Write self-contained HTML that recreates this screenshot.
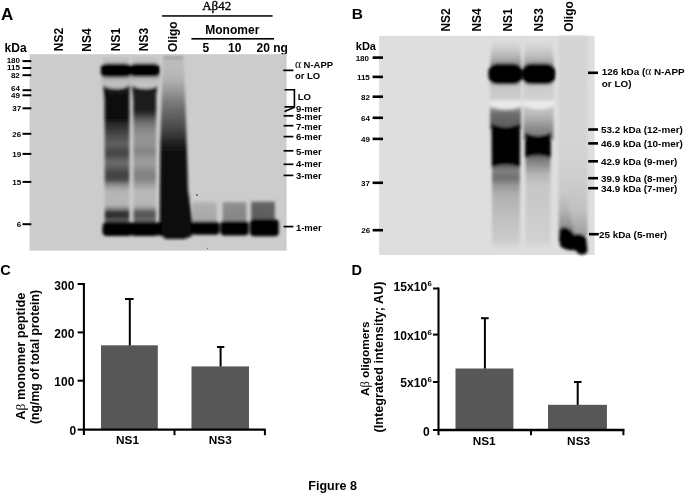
<!DOCTYPE html>
<html><head><meta charset="utf-8"><title>Figure 8</title>
<style>html,body{margin:0;padding:0;background:#fff;width:685px;height:493px;overflow:hidden}svg{display:block;font-family:"Liberation Sans",sans-serif;filter:grayscale(1) blur(0.4px)}</style>
</head><body>
<svg width="685" height="493" viewBox="0 0 685 493" font-family="Liberation Sans, sans-serif">
<defs>
<filter id="bl" x="-20%" y="-20%" width="140%" height="140%"><feGaussianBlur stdDeviation="1.4"/></filter>
<filter id="bl2" x="-20%" y="-20%" width="140%" height="140%"><feGaussianBlur stdDeviation="1.7"/></filter>
<linearGradient id="g1" gradientUnits="userSpaceOnUse" x1="0" y1="77" x2="0" y2="236"><stop offset="0.0000" stop-color="#3c3c3c"/><stop offset="0.0314" stop-color="#141414"/><stop offset="0.2579" stop-color="#0c0c0c"/><stop offset="0.2956" stop-color="#282828"/><stop offset="0.3396" stop-color="#3e3e3e"/><stop offset="0.3836" stop-color="#525252"/><stop offset="0.4214" stop-color="#5f5f5f"/><stop offset="0.4528" stop-color="#525252"/><stop offset="0.4780" stop-color="#424242"/><stop offset="0.5031" stop-color="#505050"/><stop offset="0.5283" stop-color="#696969"/><stop offset="0.5597" stop-color="#646464"/><stop offset="0.5912" stop-color="#4b4b4b"/><stop offset="0.6226" stop-color="#404040"/><stop offset="0.6478" stop-color="#4b4b4b"/><stop offset="0.6730" stop-color="#828282"/><stop offset="0.6981" stop-color="#a5a5a5"/><stop offset="0.7296" stop-color="#b6b6b6"/><stop offset="0.8050" stop-color="#b6b6b6"/><stop offset="0.8302" stop-color="#828282"/><stop offset="0.8491" stop-color="#323232"/><stop offset="0.8805" stop-color="#2d2d2d"/><stop offset="0.8994" stop-color="#646464"/><stop offset="0.9245" stop-color="#0a0a0a"/><stop offset="1.0000" stop-color="#0a0a0a"/></linearGradient>
<linearGradient id="g2" gradientUnits="userSpaceOnUse" x1="0" y1="77" x2="0" y2="236"><stop offset="0.0000" stop-color="#464646"/><stop offset="0.0314" stop-color="#191919"/><stop offset="0.2075" stop-color="#1c1c1c"/><stop offset="0.2327" stop-color="#303030"/><stop offset="0.2579" stop-color="#555555"/><stop offset="0.2956" stop-color="#767676"/><stop offset="0.3396" stop-color="#8a8a8a"/><stop offset="0.3836" stop-color="#949494"/><stop offset="0.4277" stop-color="#919191"/><stop offset="0.4717" stop-color="#848484"/><stop offset="0.5031" stop-color="#949494"/><stop offset="0.5409" stop-color="#9e9e9e"/><stop offset="0.5849" stop-color="#8c8c8c"/><stop offset="0.6164" stop-color="#808080"/><stop offset="0.6478" stop-color="#888888"/><stop offset="0.6792" stop-color="#a0a0a0"/><stop offset="0.7233" stop-color="#b9b9b9"/><stop offset="0.8050" stop-color="#b6b6b6"/><stop offset="0.8302" stop-color="#8c8c8c"/><stop offset="0.8491" stop-color="#5a5a5a"/><stop offset="0.8805" stop-color="#555555"/><stop offset="0.8994" stop-color="#737373"/><stop offset="0.9245" stop-color="#0a0a0a"/><stop offset="1.0000" stop-color="#0a0a0a"/></linearGradient>
<linearGradient id="g3" gradientUnits="userSpaceOnUse" x1="0" y1="75" x2="0" y2="89"><stop offset="0.0000" stop-color="#969696"/><stop offset="0.2500" stop-color="#afafaf"/><stop offset="0.5714" stop-color="#c0c0c0"/><stop offset="1.0000" stop-color="#bcbcbc"/></linearGradient>
<linearGradient id="g4" gradientUnits="userSpaceOnUse" x1="0" y1="75" x2="0" y2="89"><stop offset="0.0000" stop-color="#9b9b9b"/><stop offset="0.2500" stop-color="#b4b4b4"/><stop offset="0.5714" stop-color="#c4c4c4"/><stop offset="1.0000" stop-color="#c0c0c0"/></linearGradient>
<linearGradient id="g5" gradientUnits="userSpaceOnUse" x1="0" y1="56" x2="0" y2="237"><stop offset="0.0000" stop-color="#a0a0a0"/><stop offset="0.0193" stop-color="#bcbcbc"/><stop offset="0.0773" stop-color="#bababa"/><stop offset="0.1326" stop-color="#b0b0b0"/><stop offset="0.1878" stop-color="#9a9a9a"/><stop offset="0.2431" stop-color="#7f7f7f"/><stop offset="0.2983" stop-color="#6a6a6a"/><stop offset="0.3536" stop-color="#585858"/><stop offset="0.4088" stop-color="#444444"/><stop offset="0.4475" stop-color="#323232"/><stop offset="0.4807" stop-color="#212121"/><stop offset="0.5138" stop-color="#141414"/><stop offset="0.5525" stop-color="#0a0a0a"/><stop offset="1.0000" stop-color="#080808"/></linearGradient>
<linearGradient id="g6" gradientUnits="userSpaceOnUse" x1="0" y1="201.5" x2="0" y2="221"><stop offset="0.0000" stop-color="#bababa"/><stop offset="0.2051" stop-color="#aeaeae"/><stop offset="1.0000" stop-color="#a6a6a6"/></linearGradient>
<linearGradient id="g7" gradientUnits="userSpaceOnUse" x1="0" y1="202" x2="0" y2="221"><stop offset="0.0000" stop-color="#989898"/><stop offset="0.2105" stop-color="#8c8c8c"/><stop offset="1.0000" stop-color="#848484"/></linearGradient>
<linearGradient id="g8" gradientUnits="userSpaceOnUse" x1="0" y1="201.5" x2="0" y2="221"><stop offset="0.0000" stop-color="#6e6e6e"/><stop offset="0.2051" stop-color="#626262"/><stop offset="1.0000" stop-color="#5a5a5a"/></linearGradient>
<linearGradient id="g9" gradientUnits="userSpaceOnUse" x1="0" y1="40" x2="0" y2="67"><stop offset="0.0000" stop-color="#dedede"/><stop offset="0.2593" stop-color="#d0d0d0"/><stop offset="0.4815" stop-color="#c0c0c0"/><stop offset="0.6667" stop-color="#aeaeae"/><stop offset="0.8148" stop-color="#9c9c9c"/><stop offset="1.0000" stop-color="#878787"/></linearGradient>
<linearGradient id="g10" gradientUnits="userSpaceOnUse" x1="0" y1="40" x2="0" y2="67"><stop offset="0.0000" stop-color="#dedede"/><stop offset="0.2593" stop-color="#d3d3d3"/><stop offset="0.4815" stop-color="#c6c6c6"/><stop offset="0.6667" stop-color="#b6b6b6"/><stop offset="0.8148" stop-color="#a6a6a6"/><stop offset="1.0000" stop-color="#969696"/></linearGradient>
<linearGradient id="g11" gradientUnits="userSpaceOnUse" x1="0" y1="82" x2="0" y2="130"><stop offset="0.0000" stop-color="#b4b4b4"/><stop offset="0.0833" stop-color="#c6c6c6"/><stop offset="0.3542" stop-color="#cdcdcd"/><stop offset="0.4792" stop-color="#d0d0d0"/><stop offset="0.5833" stop-color="#8c8c8c"/><stop offset="0.6667" stop-color="#6c6c6c"/><stop offset="0.8333" stop-color="#626262"/><stop offset="1.0000" stop-color="#5a5a5a"/></linearGradient>
<linearGradient id="g12" gradientUnits="userSpaceOnUse" x1="0" y1="160" x2="0" y2="248"><stop offset="0.0000" stop-color="#1e1e1e"/><stop offset="0.0795" stop-color="#6e6e6e"/><stop offset="0.1364" stop-color="#828282"/><stop offset="0.1818" stop-color="#707070"/><stop offset="0.2273" stop-color="#767676"/><stop offset="0.2841" stop-color="#969696"/><stop offset="0.3977" stop-color="#b0b0b0"/><stop offset="0.6250" stop-color="#bebebe"/><stop offset="0.9091" stop-color="#cbcbcb"/><stop offset="1.0000" stop-color="#dadada"/></linearGradient>
<linearGradient id="g13" gradientUnits="userSpaceOnUse" x1="0" y1="82" x2="0" y2="140"><stop offset="0.0000" stop-color="#bcbcbc"/><stop offset="0.0690" stop-color="#cbcbcb"/><stop offset="0.2759" stop-color="#d0d0d0"/><stop offset="0.3793" stop-color="#d2d2d2"/><stop offset="0.4655" stop-color="#c3c3c3"/><stop offset="0.5862" stop-color="#b6b6b6"/><stop offset="0.7069" stop-color="#9d9d9d"/><stop offset="0.8103" stop-color="#898989"/><stop offset="1.0000" stop-color="#787878"/></linearGradient>
<linearGradient id="g14" gradientUnits="userSpaceOnUse" x1="0" y1="152" x2="0" y2="248"><stop offset="0.0000" stop-color="#282828"/><stop offset="0.0625" stop-color="#737373"/><stop offset="0.1250" stop-color="#8c8c8c"/><stop offset="0.2292" stop-color="#b4b4b4"/><stop offset="0.3438" stop-color="#c6c6c6"/><stop offset="0.9167" stop-color="#d0d0d0"/><stop offset="1.0000" stop-color="#dcdcdc"/></linearGradient>
<linearGradient id="g15" gradientUnits="userSpaceOnUse" x1="0" y1="36" x2="0" y2="232"><stop offset="0.0000" stop-color="#d5d5d5"/><stop offset="0.5816" stop-color="#d3d3d3"/><stop offset="0.7602" stop-color="#cbcbcb"/><stop offset="0.8878" stop-color="#c0c0c0"/><stop offset="0.9490" stop-color="#b1b1b1"/><stop offset="1.0000" stop-color="#a0a0a0"/></linearGradient>
<linearGradient id="g16" gradientUnits="userSpaceOnUse" x1="0" y1="190" x2="0" y2="232"><stop offset="0.0000" stop-color="#cdcdcd"/><stop offset="0.4762" stop-color="#b4b4b4"/><stop offset="0.7619" stop-color="#9b9b9b"/><stop offset="1.0000" stop-color="#828282"/></linearGradient>
</defs>
<rect width="685" height="493" fill="#fff"/>
<text x="1.0" y="19.7" font-size="17" font-weight="bold" text-anchor="start" >A</text>
<text x="4.6" y="52.4" font-size="12" font-weight="bold" text-anchor="start" >kDa</text>
<text transform="translate(63.4,51.2) rotate(-90)" font-size="12" font-weight="bold">NS2</text>
<text transform="translate(90.9,51.7) rotate(-90)" font-size="12" font-weight="bold">NS4</text>
<text transform="translate(120.2,51.2) rotate(-90)" font-size="12" font-weight="bold">NS1</text>
<text transform="translate(147.6,51.2) rotate(-90)" font-size="12" font-weight="bold">NS3</text>
<text transform="translate(177.4,52.0) rotate(-90)" font-size="12" font-weight="bold">Oligo</text>
<text x="216.7" y="9.9" font-size="13" font-family="Liberation Serif, serif" text-anchor="middle" stroke="#000" stroke-width="0.35">A&#946;42</text>
<rect x="162" y="15.2" width="110.6" height="1.5" fill="#000" />
<text x="232.3" y="33.6" font-size="12" font-weight="bold" text-anchor="middle" >Monomer</text>
<rect x="191.4" y="38.0" width="82.6" height="1.6" fill="#000" />
<text x="202.5" y="52.4" font-size="12" font-weight="bold" text-anchor="start" >5</text>
<text x="228" y="52.4" font-size="12" font-weight="bold" text-anchor="start" >10</text>
<text x="256.5" y="52.4" font-size="12" font-weight="bold" text-anchor="start" >20 ng</text>
<rect x="29.6" y="54.2" width="257.0" height="196.39999999999998" fill="#cccccc" />
<g filter="url(#bl)">
<rect x="103" y="57" width="26" height="9" fill="#c0c0c0" />
<rect x="132" y="57" width="26" height="9" fill="#c2c2c2" />
<path d="M102.3,77 L130,77 L129.5,95 L129.2,236 L104.8,236 L104.6,100 Z" fill="url(#g1)"/>
<path d="M131.3,77 L158.8,77 L156.2,95 L155.8,236 L133.6,236 L133.3,100 Z" fill="url(#g2)"/>
<path d="M101.8,75 L130.6,75 L130.6,81.5 Q129.5,88.8 116.2,88.8 Q103,88.8 101.8,81.5 Z" fill="url(#g3)"/>
<path d="M130.4,75 L159.6,75 L159.6,81.5 Q158.5,88.8 145.2,88.8 Q132,88.8 130.4,81.5 Z" fill="url(#g4)"/>
<path d="M100.8,68.5 Q100.8,63.6 106,63.4 L126,63.4 Q131,63.6 131,68.5 L131,72.5 Q131,77.2 126,77.2 L106,77.2 Q100.8,77.2 100.8,72.5 Z" fill="#000"/>
<path d="M130,68.5 Q130,63.6 135,63.4 L154.5,63.4 Q159.8,63.6 159.8,68.5 L159.8,72.5 Q159.8,76.8 154.5,76.8 L135,76.8 Q130,76.8 130,72.5 Z" fill="#000"/>
<path d="M163,56 L183.5,56 L186,120 L188,190 L191,210 L193,224 L192,236 L184,239 L166,239 L160.5,235 L159.6,222 L160.3,140 Z" fill="url(#g5)"/>
<rect x="164" y="57.3" width="18" height="1.6" fill="#969696" />
<path d="M106,222.6 L162,222.6 L162,235.5 L106,235.5 Q102.4,235.5 102.4,231 L102.6,226 Q103,222.6 106,222.6 Z" fill="#000"/>
<rect x="192.6" y="201.5" width="24.0" height="21.5" fill="url(#g6)" />
<rect x="191.2" y="221.6" width="28.400000000000006" height="13.200000000000017" fill="#000" rx="4"/>
<rect x="222.8" y="202" width="23.599999999999994" height="21" fill="url(#g7)" />
<rect x="220.4" y="221.0" width="28.400000000000006" height="14.400000000000006" fill="#000" rx="4"/>
<rect x="251.2" y="201.5" width="23.600000000000023" height="21.5" fill="url(#g8)" />
<rect x="250.0" y="219.2" width="28.80000000000001" height="17.0" fill="#000" rx="4"/>
</g>
<circle cx="197" cy="195" r="0.9" fill="#555"/>
<circle cx="207.5" cy="248.5" r="0.7" fill="#777"/>
<text x="20.0" y="63.3" font-size="8" font-weight="bold" text-anchor="end" >180</text>
<rect x="22.5" y="60.1" width="8.8" height="2" fill="#000" />
<text x="20.0" y="70.1" font-size="8" font-weight="bold" text-anchor="end" >115</text>
<rect x="22.5" y="67.0" width="8.8" height="2" fill="#000" />
<text x="19.8" y="77.5" font-size="8" font-weight="bold" text-anchor="end" >82</text>
<rect x="22.5" y="74.2" width="8.8" height="2" fill="#000" />
<text x="19.9" y="90.5" font-size="8" font-weight="bold" text-anchor="end" >64</text>
<rect x="22.5" y="89.2" width="8.8" height="2" fill="#000" />
<text x="19.9" y="98.4" font-size="8" font-weight="bold" text-anchor="end" >49</text>
<rect x="22.5" y="94.3" width="8.8" height="2" fill="#000" />
<text x="21.1" y="110.9" font-size="8" font-weight="bold" text-anchor="end" >37</text>
<rect x="22.5" y="107.3" width="8.8" height="2" fill="#000" />
<text x="21.1" y="136.6" font-size="8" font-weight="bold" text-anchor="end" >26</text>
<rect x="22.5" y="132.8" width="8.8" height="2" fill="#000" />
<text x="21.1" y="156.7" font-size="8" font-weight="bold" text-anchor="end" >19</text>
<rect x="22.5" y="152.9" width="8.8" height="2" fill="#000" />
<text x="21.1" y="184.7" font-size="8" font-weight="bold" text-anchor="end" >15</text>
<rect x="22.5" y="180.9" width="8.8" height="2" fill="#000" />
<text x="21.2" y="227.4" font-size="8" font-weight="bold" text-anchor="end" >6</text>
<rect x="22.5" y="223.2" width="8.8" height="2" fill="#000" />
<text x="294.9" y="67.8" font-size="9.5" font-weight="bold" text-anchor="start" ><tspan font-family="Liberation Serif, serif" font-weight="normal" font-size="11.5">&#945;</tspan> N-APP</text>
<text x="294.9" y="79.1" font-size="9.5" font-weight="bold" text-anchor="start" >or LO</text>
<rect x="283.2" y="69.5" width="10.2" height="1.7" fill="#000" />
<path d="M284.5,89.7 H294.4 V106.9 H284.5" fill="none" stroke="#000" stroke-width="1.6"/>
<line x1="294.5" y1="107.2" x2="284.5" y2="111.4" stroke="#000" stroke-width="1.6"/>
<text x="297.7" y="100.4" font-size="9.6" font-weight="bold" text-anchor="start" >LO</text>
<text x="295.9" y="112.4" font-size="9.5" font-weight="bold" text-anchor="start" >9-mer</text>
<text x="295.9" y="119.5" font-size="9.5" font-weight="bold" text-anchor="start" >8-mer</text>
<rect x="283.6" y="114.95" width="9.8" height="1.7" fill="#000" />
<text x="295.9" y="129.9" font-size="9.5" font-weight="bold" text-anchor="start" >7-mer</text>
<rect x="283.6" y="124.85000000000001" width="9.8" height="1.7" fill="#000" />
<text x="295.9" y="140.3" font-size="9.5" font-weight="bold" text-anchor="start" >6-mer</text>
<rect x="283.6" y="135.75" width="9.8" height="1.7" fill="#000" />
<text x="295.9" y="154.5" font-size="9.5" font-weight="bold" text-anchor="start" >5-mer</text>
<rect x="283.6" y="149.95000000000002" width="9.8" height="1.7" fill="#000" />
<text x="295.9" y="166.9" font-size="9.5" font-weight="bold" text-anchor="start" >4-mer</text>
<rect x="283.6" y="163.45000000000002" width="9.8" height="1.7" fill="#000" />
<text x="295.9" y="179.0" font-size="9.5" font-weight="bold" text-anchor="start" >3-mer</text>
<rect x="283.6" y="174.55" width="9.8" height="1.7" fill="#000" />
<text x="295.9" y="230.8" font-size="9.5" font-weight="bold" text-anchor="start" >1-mer</text>
<rect x="283.6" y="225.75" width="9.8" height="1.7" fill="#000" />
<text x="351.8" y="19.3" font-size="15.5" font-weight="bold" text-anchor="start" >B</text>
<text x="355.8" y="50.0" font-size="11" font-weight="bold" text-anchor="start" >kDa</text>
<text transform="translate(450.3,31.6) rotate(-90)" font-size="12" font-weight="bold">NS2</text>
<text transform="translate(480.6,31.6) rotate(-90)" font-size="12" font-weight="bold">NS4</text>
<text transform="translate(512.2,31.6) rotate(-90)" font-size="12" font-weight="bold">NS1</text>
<text transform="translate(543.3,31.5) rotate(-90)" font-size="12" font-weight="bold">NS3</text>
<text transform="translate(572.6,31.8) rotate(-90)" font-size="12" font-weight="bold">Oligo</text>
<rect x="379.1" y="35.8" width="215.39999999999998" height="219.2" fill="#dedede" />
<g filter="url(#bl2)">
<path d="M492,40 L520,40 L521.5,67 L490,67 Z" fill="url(#g9)"/>
<path d="M525,40 L552,40 L554,67 L523.5,67 Z" fill="url(#g10)"/>
<rect x="490" y="82" width="31" height="48" fill="url(#g11)" />
<rect x="492" y="160" width="28" height="88" fill="url(#g12)" />
<rect x="523.5" y="82" width="30" height="58" fill="url(#g13)" />
<rect x="525.5" y="150" width="25" height="98" fill="url(#g14)" />
<path d="M490,100.5 L521.5,100.5 L521.5,106 Q506,113 490,106 Z" fill="#e9e9e9"/>
<path d="M523,100.5 L554,100.5 L554,106 Q538.5,113 523,106 Z" fill="#e9e9e9"/>
<path d="M488.2,74 Q488.2,63.6 497,63.4 L514,63.4 Q522.5,63.6 522.5,74 Q522.5,84.4 514,84.6 L497,84.6 Q488.2,84.4 488.2,74 Z" fill="#000"/>
<path d="M522.1,74 Q522.1,63.6 530,63.4 L547,63.4 Q555.6,63.6 555.6,74 Q555.6,84.4 547,84.6 L530,84.6 Q522.1,84.4 522.1,74 Z" fill="#000"/>
<path d="M491.5,123.5 Q506,131 520.2,123.5 L520,167.5 Q506,161 491.8,167.5 Z" fill="#000"/>
<path d="M525,132.5 Q538,139.5 551,132.5 L550.8,158 Q538,151.5 525.2,158 Z" fill="#000"/>
<rect x="558.5" y="36" width="29" height="200" fill="url(#g15)" />
<path d="M559,190 L566,190 Q570,215 574,232 L559,232 Z" fill="url(#g16)"/>
<path d="M559,232 Q560,226.5 566,227.5 Q572,230 574,234 Q582,232.5 586,237 L587.5,250.5 Q586,256 579,254 L575,250 Q566,251 560.5,246.5 L559,239 Z" fill="#000"/>
</g>
<text x="369.0" y="60.6" font-size="8" font-weight="bold" text-anchor="end" >180</text>
<rect x="372.6" y="56.300000000000004" width="10.4" height="2.6" fill="#000" />
<text x="369.8" y="79.6" font-size="8" font-weight="bold" text-anchor="end" >115</text>
<rect x="372.6" y="75.60000000000001" width="10.4" height="2.6" fill="#000" />
<text x="369.9" y="99.6" font-size="8" font-weight="bold" text-anchor="end" >82</text>
<rect x="372.6" y="95.4" width="10.4" height="2.6" fill="#000" />
<text x="370.0" y="120.7" font-size="8" font-weight="bold" text-anchor="end" >64</text>
<rect x="372.6" y="116.5" width="10.4" height="2.6" fill="#000" />
<text x="370.0" y="141.6" font-size="8" font-weight="bold" text-anchor="end" >49</text>
<rect x="372.6" y="137.6" width="10.4" height="2.6" fill="#000" />
<text x="370.0" y="185.6" font-size="8" font-weight="bold" text-anchor="end" >37</text>
<rect x="372.6" y="181.5" width="10.4" height="2.6" fill="#000" />
<text x="370.2" y="233.1" font-size="8" font-weight="bold" text-anchor="end" >26</text>
<rect x="372.6" y="228.89999999999998" width="10.4" height="2.6" fill="#000" />
<text x="601.8" y="75.4" font-size="9.9" font-weight="bold" text-anchor="start" >126 kDa (<tspan font-family="Liberation Serif, serif" font-weight="normal" font-size="11.5">&#945;</tspan> N-APP</text>
<text x="601.8" y="86.8" font-size="9.9" font-weight="bold" text-anchor="start" >or LO)</text>
<rect x="588.0" y="71.5" width="10.0" height="2.6" fill="#000" />
<text x="601.0" y="133.1" font-size="9.9" font-weight="bold" text-anchor="start" >53.2 kDa (12-mer)</text>
<rect x="588.2" y="128.2" width="9.8" height="2.6" fill="#000" />
<text x="601.0" y="147.0" font-size="9.9" font-weight="bold" text-anchor="start" >46.9 kDa (10-mer)</text>
<rect x="588.2" y="142.1" width="9.8" height="2.6" fill="#000" />
<text x="601.0" y="164.9" font-size="9.9" font-weight="bold" text-anchor="start" >42.9 kDa (9-mer)</text>
<rect x="588.2" y="160.0" width="9.8" height="2.6" fill="#000" />
<text x="601.0" y="181.8" font-size="9.9" font-weight="bold" text-anchor="start" >39.9 kDa (8-mer)</text>
<rect x="588.2" y="176.89999999999998" width="9.8" height="2.6" fill="#000" />
<text x="601.0" y="191.8" font-size="9.9" font-weight="bold" text-anchor="start" >34.9 kDa (7-mer)</text>
<rect x="588.2" y="186.89999999999998" width="9.8" height="2.6" fill="#000" />
<text x="599.0" y="237.8" font-size="9.9" font-weight="bold" text-anchor="start" >25 kDa (5-mer)</text>
<rect x="589.0" y="232.89999999999998" width="9.8" height="2.6" fill="#000" />
<text x="0.2" y="274.8" font-size="14.5" font-weight="bold" text-anchor="start" >C</text>
<text transform="translate(25.0,356.2) rotate(-90)" font-size="12.8" font-weight="bold" text-anchor="middle">A<tspan font-family="Liberation Serif, serif" font-weight="normal" font-size="13.5">&#946;</tspan> monomer peptide</text>
<text transform="translate(39.2,357.0) rotate(-90)" font-size="12.25" font-weight="bold" text-anchor="middle">(ng/mg of total protein)</text>
<rect x="101.0" y="345.3" width="56.8" height="84.2" fill="#575757" />
<rect x="191.5" y="366.4" width="57.5" height="63.1" fill="#575757" />
<line x1="129.8" y1="345.5" x2="129.8" y2="299.0" stroke="#000" stroke-width="2"/>
<line x1="125.0" y1="299.0" x2="133.6" y2="299.0" stroke="#000" stroke-width="2"/>
<line x1="220.6" y1="366.5" x2="220.6" y2="347.0" stroke="#000" stroke-width="2"/>
<line x1="217.0" y1="347.0" x2="224.3" y2="347.0" stroke="#000" stroke-width="2"/>
<line x1="83.9" y1="283.1" x2="83.9" y2="435.0" stroke="#000" stroke-width="2.1"/>
<line x1="82.8" y1="429.6" x2="265.6" y2="429.6" stroke="#000" stroke-width="2.4"/>
<line x1="77.6" y1="284.0" x2="84.5" y2="284.0" stroke="#000" stroke-width="2"/>
<line x1="77.6" y1="332.4" x2="84.5" y2="332.4" stroke="#000" stroke-width="2"/>
<line x1="77.6" y1="380.7" x2="84.5" y2="380.7" stroke="#000" stroke-width="2"/>
<line x1="77.6" y1="429.6" x2="84.5" y2="429.6" stroke="#000" stroke-width="2"/>
<line x1="174.5" y1="429" x2="174.5" y2="435.2" stroke="#000" stroke-width="2"/>
<line x1="264.9" y1="429" x2="264.9" y2="435.2" stroke="#000" stroke-width="2"/>
<text transform="translate(74.4,289.7) scale(0.96,1.0)" font-size="12.5" font-weight="bold" text-anchor="end">300</text>
<text transform="translate(74.4,338.1) scale(0.96,1.0)" font-size="12.5" font-weight="bold" text-anchor="end">200</text>
<text transform="translate(74.4,385.7) scale(0.96,1.0)" font-size="12.5" font-weight="bold" text-anchor="end">100</text>
<text transform="translate(76.1,434.5) scale(0.96,1.0)" font-size="12.5" font-weight="bold" text-anchor="end">0</text>
<text x="127.5" y="443.9" font-size="11.8" font-weight="bold" text-anchor="middle" >NS1</text>
<text x="220.3" y="443.9" font-size="11.8" font-weight="bold" text-anchor="middle" >NS3</text>
<text x="351.4" y="274.6" font-size="14.5" font-weight="bold" text-anchor="start" >D</text>
<text transform="translate(368.6,358.8) rotate(-90)" font-size="11.8" font-weight="bold" text-anchor="middle">A<tspan font-family="Liberation Serif, serif" font-weight="normal" font-size="12.5">&#946;</tspan> oligomers</text>
<text transform="translate(382.6,357.0) rotate(-90)" font-size="12.7" font-weight="bold" text-anchor="middle">(Integrated intensity; AU)</text>
<rect x="455.5" y="368.5" width="57.9" height="61.0" fill="#575757" />
<rect x="548.0" y="404.8" width="58.9" height="24.7" fill="#575757" />
<line x1="484.9" y1="368.6" x2="484.9" y2="318.2" stroke="#000" stroke-width="2"/>
<line x1="481.0" y1="318.2" x2="488.7" y2="318.2" stroke="#000" stroke-width="2"/>
<line x1="577.7" y1="404.9" x2="577.7" y2="382.0" stroke="#000" stroke-width="2"/>
<line x1="574.0" y1="382.0" x2="581.5" y2="382.0" stroke="#000" stroke-width="2"/>
<line x1="438.5" y1="287.6" x2="438.5" y2="435.2" stroke="#000" stroke-width="2.1"/>
<line x1="437.5" y1="430.0" x2="624.3" y2="430.0" stroke="#000" stroke-width="2.4"/>
<line x1="433.0" y1="288.5" x2="439" y2="288.5" stroke="#000" stroke-width="2"/>
<line x1="433.0" y1="334.6" x2="439" y2="334.6" stroke="#000" stroke-width="2"/>
<line x1="433.0" y1="382.0" x2="439" y2="382.0" stroke="#000" stroke-width="2"/>
<line x1="433.0" y1="430.0" x2="439" y2="430.0" stroke="#000" stroke-width="2"/>
<line x1="531.0" y1="429" x2="531.0" y2="435.2" stroke="#000" stroke-width="2"/>
<line x1="623.4" y1="429" x2="623.4" y2="435.2" stroke="#000" stroke-width="2"/>
<text x="427.2" y="291.3" font-size="12.1" font-weight="bold" text-anchor="end" >15x10</text>
<text x="427.5" y="286.40000000000003" font-size="7.8" font-weight="bold" text-anchor="start" >6</text>
<text x="427.2" y="340.3" font-size="12.1" font-weight="bold" text-anchor="end" >10x10</text>
<text x="427.5" y="335.40000000000003" font-size="7.8" font-weight="bold" text-anchor="start" >6</text>
<text x="427.2" y="386.5" font-size="12.1" font-weight="bold" text-anchor="end" >5x10</text>
<text x="427.5" y="381.6" font-size="7.8" font-weight="bold" text-anchor="start" >6</text>
<text transform="translate(429.6,435.5) scale(0.96,1.0)" font-size="12.5" font-weight="bold" text-anchor="end">0</text>
<text x="484.2" y="444.6" font-size="11.8" font-weight="bold" text-anchor="middle" >NS1</text>
<text x="578.6" y="444.6" font-size="11.8" font-weight="bold" text-anchor="middle" >NS3</text>
<text x="308.3" y="489.8" font-size="12.5" font-weight="bold" text-anchor="start" >Figure 8</text>
</svg>
</body></html>
